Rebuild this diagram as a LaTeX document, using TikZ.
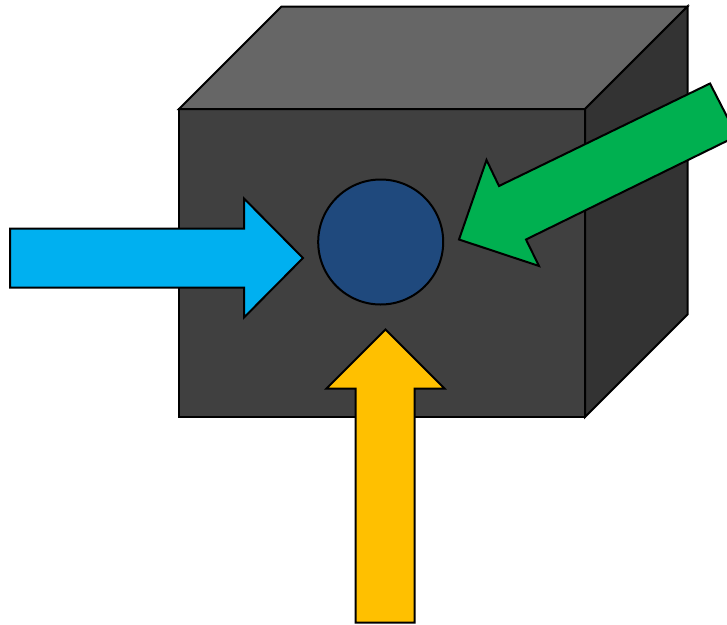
\documentclass[tikz,border=0pt]{standalone}
\definecolor{cfront}{HTML}{404040}
\definecolor{ctop}{HTML}{666666}
\definecolor{cside}{HTML}{333333}
\definecolor{cblue}{HTML}{00B0F0}
\definecolor{cgreen}{HTML}{00B050}
\definecolor{cyellow}{HTML}{FFC000}
\definecolor{ccircle}{HTML}{1F497D}
\tikzset{outl/.style={draw=black,line width=2pt,line join=miter}}
\begin{document}
\begin{tikzpicture}[x=1pt,y=-1pt]
\useasboundingbox (0,0) rectangle (727,624);
\draw[outl,fill=cfront] (179,109) rectangle (585,417);
\draw[outl,fill=ctop] (179,109) -- (281.5,6.5) -- (687.5,6.5) -- (585,109) -- cycle;
\draw[outl,fill=cside] (585,109) -- (687.5,6.5) -- (687.5,314.5) -- (585,417) -- cycle;
\node[outl,fill=ccircle,circle,minimum size=125pt,inner sep=0pt] (c) at (380.7,242) {};
\draw[outl,fill=cblue] (10,228.5) -- (244,228.5) -- (244,198.5) -- (303,258) -- (244,317.5) -- (244,287.5) -- (10,287.5) -- cycle;
\draw[outl,fill=cyellow] (355.7,622.5) -- (355.7,388.5) -- (326.5,388.5) -- (385.5,329.5) -- (444.5,388.5) -- (414.5,388.5) -- (414.5,622.5) -- cycle;
\draw[outl,fill=cgreen] (710,83.5) -- (499,186) -- (486.5,160) -- (459,239.5) -- (539,266) -- (526,239.5) -- (737,136) -- cycle;
\end{tikzpicture}
\end{document}
